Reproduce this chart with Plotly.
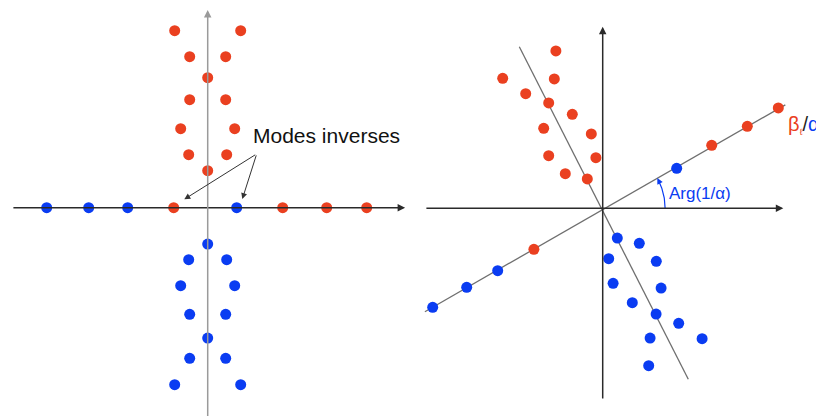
import numpy as np
import plotly.graph_objects as go

RED = "#EA4020"
BLUE = "#0A3CF2"
AXIS_DARK = "#2a2a2a"
AXIS_GREY = "#9a9a9a"
LINE_GREY = "#6f6f6f"

# ---- left plane: modes of the direct problem (complex plane units) ----
left_red_x = [-1.65, 1.65, -0.9, 0.9, 0.0, -0.9, 0.9, -1.35, 1.35, -0.95, 0.95, 0.0,
              -1.7, 3.75, 5.95, 7.95]
left_red_y = [8.85, 8.85, 7.55, 7.55, 6.5, 5.4, 5.4, 3.95, 3.95, 2.65, 2.65, 1.85,
              0.0, 0.0, 0.0, 0.0]
left_blue_x = [-8.05, -5.95, -4.0, 1.45, 0.0, -0.95, 0.95, -1.35, 1.35, -0.9, 0.9, 0.0,
               -0.9, 0.9, -1.65, 1.65]
left_blue_y = [0.0, 0.0, 0.0, 0.0, -1.82, -2.6, -2.6, -3.9, -3.9, -5.33, -5.33, -6.52,
               -7.53, -7.53, -8.85, -8.85]

# ---- right plane: rotated spectrum ----
right_red_x = [-2.34, -5.0, -2.42, -3.85, -2.7, -1.52, -2.95, -0.57, -2.7, -0.34, -1.87, -0.77,
               -3.44, 5.45, 7.23, 8.78]
right_red_y = [7.87, 6.5, 6.47, 5.73, 5.27, 4.7, 4.0, 3.72, 2.63, 2.53, 1.73, 1.47,
               -2.05, 3.15, 4.1, 5.02]
right_blue_x = [3.7, -5.25, -6.8, -8.5, 0.73, 1.83, 0.3, 2.68, 0.52, 2.92, 1.48, 2.67,
                3.8, 2.37, 4.97, 2.3]
right_blue_y = [2.0, -3.12, -3.95, -4.95, -1.49, -1.75, -2.52, -2.65, -3.75, -3.99, -4.72, -5.29,
                -5.75, -6.49, -6.52, -7.87]

# oblique guide lines in the right plane (through the origin)
ray_arg_x = [-8.89, 9.13]
ray_arg_y = [-5.17, 5.17]
ray_steep_x = [-4.17, 4.28]
ray_steep_y = [8.08, -8.55]

MARKER_SIZE = 11

fig = go.Figure()


def dots(x, y, color, xa, ya):
    fig.add_trace(go.Scatter(
        x=x, y=y, mode="markers", xaxis=xa, yaxis=ya, showlegend=False,
        hoverinfo="skip",
        marker=dict(size=MARKER_SIZE, color=color, line=dict(width=0)),
    ))


# guide lines first so dots sit on top
for lx, ly in [(ray_arg_x, ray_arg_y), (ray_steep_x, ray_steep_y)]:
    fig.add_trace(go.Scatter(
        x=lx, y=ly, mode="lines", xaxis="x2", yaxis="y2", showlegend=False,
        hoverinfo="skip", line=dict(color=LINE_GREY, width=1.3),
    ))

# angle arc Arg(1/alpha)
arc_r = 3.12
arc_end = np.degrees(np.arctan2(ray_arg_y[1], ray_arg_x[1])) - 0.5
theta = np.radians(np.linspace(0, arc_end - 2.5, 40))
fig.add_trace(go.Scatter(
    x=arc_r * np.cos(theta), y=arc_r * np.sin(theta), mode="lines",
    xaxis="x2", yaxis="y2", showlegend=False, hoverinfo="skip",
    line=dict(color=BLUE, width=1.2),
))

dots(left_red_x, left_red_y, RED, "x", "y")
dots(left_blue_x, left_blue_y, BLUE, "x", "y")
dots(right_red_x, right_red_y, RED, "x2", "y2")
dots(right_blue_x, right_blue_y, BLUE, "x2", "y2")

annotations = []


def arrow(x0, y0, x1, y1, xr, yr, color, width=1.5, size=1.0, head=2):
    annotations.append(dict(
        x=x1, y=y1, ax=x0, ay=y0, xref=xr, yref=yr, axref=xr, ayref=yr,
        showarrow=True, arrowhead=head, arrowsize=size, arrowwidth=width,
        arrowcolor=color, standoff=0, startstandoff=0, text="",
    ))


# left plane axes
arrow(-9.79, 0, 9.87, 0, "x", "y", AXIS_DARK, 1.5)
arrow(0, -10.6, 0, 9.88, "x", "y", AXIS_GREY, 1.5)
# right plane axes
arrow(-8.89, 0, 9.03, 0, "x2", "y2", AXIS_DARK, 1.5)
arrow(0, -9.59, 0, 9.08, "x2", "y2", AXIS_DARK, 1.5)

# "Modes inverses" pointers
arrow(2.45, 2.69, -1.17, 0.42, "x", "y", "#333333", 1.0, 1.2)
arrow(2.45, 2.69, 1.73, 0.43, "x", "y", "#333333", 1.0, 1.2)

# arrow tip of the angle arc
t0 = np.radians(arc_end - 3.0)
t1 = np.radians(arc_end)
arrow(arc_r * np.cos(t0), arc_r * np.sin(t0), arc_r * np.cos(t1), arc_r * np.sin(t1),
      "x2", "y2", BLUE, 1.2, 1.0)

annotations.append(dict(
    x=2.15, y=3.6, xref="x", yref="y", xanchor="left", yanchor="middle",
    text="Modes inverses", showarrow=False,
    font=dict(family="Liberation Sans, Arial, sans-serif", size=21, color="#111111"),
))
annotations.append(dict(
    x=3.23, y=0.75, xref="x2", yref="y2", xanchor="left", yanchor="middle",
    text="Arg(1/α)", showarrow=False,
    font=dict(family="Liberation Sans, Arial, sans-serif", size=17, color=BLUE),
))
annotations.append(dict(
    x=9.15, y=4.17, xref="x2", yref="y2", xanchor="left", yanchor="middle",
    text=(f"<span style='color:{RED}'>β<sub><span style='font-size:9px'>ℓ</span></sub></span>"
          f"<span style='color:#222222'>/</span>"
          f"<span style='color:{BLUE}'>α</span>"),
    showarrow=False,
    font=dict(family="Liberation Sans, Arial, sans-serif", size=20, color=RED),
))

split = 410 / 816
hidden = dict(visible=False, showgrid=False, zeroline=False, fixedrange=True)

fig.update_layout(
    width=816, height=416,
    margin=dict(l=0, r=0, t=0, b=0),
    paper_bgcolor="white", plot_bgcolor="white",
    xaxis=dict(domain=[0, split], range=[-10.385, 10.115], **hidden),
    yaxis=dict(domain=[0, 1], range=[-10.415, 10.385], **hidden),
    xaxis2=dict(domain=[split, 1], range=[-9.635, 10.665], anchor="y2", **hidden),
    yaxis2=dict(domain=[0, 1], range=[-10.385, 10.415], anchor="x2", **hidden),
    annotations=annotations,
)

fig.write_html("out.html")
